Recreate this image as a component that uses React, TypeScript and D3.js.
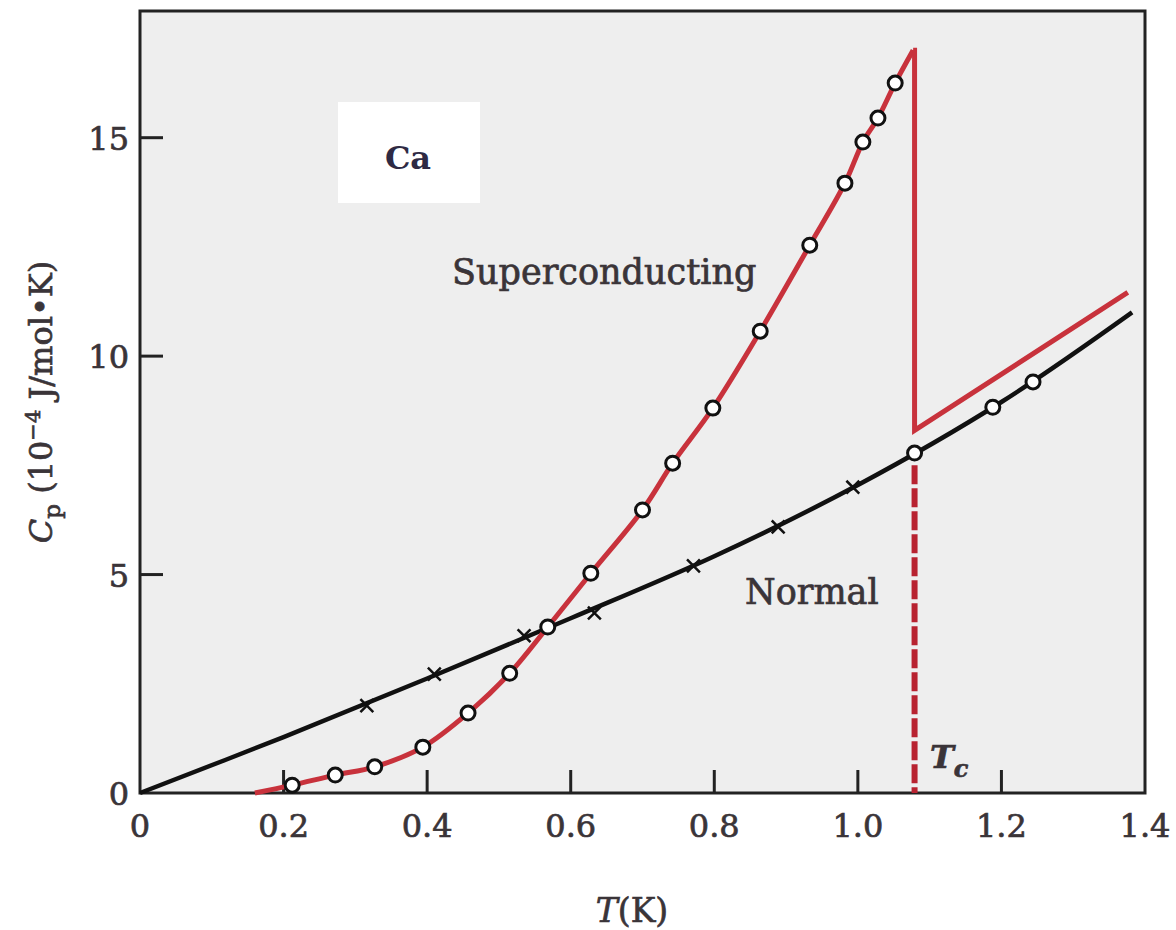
import * as d3 from "d3";
import React, {useRef, useEffect} from "react";

// superconducting points (circles), T in K, Cp in 1e-4 J/mol K
const scT = [0.212, 0.272, 0.327, 0.394, 0.457, 0.515, 0.568, 0.628, 0.700, 0.742, 0.798, 0.864, 0.933, 0.982, 1.007, 1.028, 1.052];
const scC = [0.18, 0.41, 0.60, 1.05, 1.83, 2.74, 3.80, 5.03, 6.48, 7.55, 8.81, 10.57, 12.54, 13.96, 14.90, 15.45, 16.25];

// smooth superconducting curve, below Tc
const scCurveT = [0.16, 0.212, 0.272, 0.327, 0.394, 0.457, 0.515, 0.568, 0.628, 0.700, 0.742, 0.798, 0.864, 0.933, 0.982, 1.007, 1.028, 1.052, 1.077];
const scCurveC = [0.0, 0.18, 0.41, 0.60, 1.05, 1.83, 2.74, 3.80, 5.03, 6.48, 7.55, 8.81, 10.57, 12.54, 13.96, 14.90, 15.45, 16.25, 17.0];

// jump at Tc and the line above it
const jumpT = [1.077, 1.079, 1.079, 1.376];
const jumpC = [17.0, 17.0, 8.3, 11.46];

// points above Tc (circles on the normal curve)
const aboveT = [1.079, 1.188, 1.244];
const aboveC = [7.78, 8.83, 9.41];

// normal state points (crosses)
const normT = [0.316, 0.410, 0.535, 0.633, 0.771, 0.889, 0.993];
const normC = [2.00, 2.72, 3.60, 4.12, 5.20, 6.09, 7.00];

// normal state curve
const normCurveT = [0, 0.2, 0.4, 0.6, 0.8, 1.0, 1.2, 1.382];
const normCurveC = [0, 1.28, 2.62, 4.0, 5.42, 7.05, 8.95, 11.0];

const Tc = 1.079;
const xTicks = [0, 0.2, 0.4, 0.6, 0.8, 1.0, 1.2, 1.4];
const yTicks = [0, 5, 10, 15];

const FONT = "'DejaVu Serif', serif";
const TEXT = "#3a3438";
const RED = "#c8323c";

function HeatCapacityChart() {

    const ref = useRef<SVGSVGElement>(null);

    useEffect(() => {
        const svg = d3.select(ref.current);
        svg.selectAll("*").remove();

        const x = d3.scaleLinear().domain([0, 1.4]).range([140, 1145]);
        const y = d3.scaleLinear().domain([0, 17.9]).range([793, 11]);

        const zip = (a: number[], b: number[]) => a.map((v, i) => [v, b[i]] as [number, number]);

        // slightly heavier type, like the scanned figure
        const ink = (sel: any, size: number) => sel
            .attr("font-family", FONT).attr("font-size", size)
            .attr("fill", TEXT).attr("stroke", TEXT).attr("stroke-width", 0.7);

        // plot background
        svg.append("rect")
            .attr("x", x(0)).attr("y", y(17.9))
            .attr("width", x(1.4) - x(0)).attr("height", y(0) - y(17.9))
            .attr("fill", "#eeeeee");

        // Ca box
        svg.append("rect")
            .attr("x", 338).attr("y", 102)
            .attr("width", 142).attr("height", 101)
            .attr("fill", "#ffffff");
        svg.append("text")
            .attr("x", 408).attr("y", 169)
            .attr("text-anchor", "middle")
            .call(ink, 32)
            .attr("font-weight", "bold")
            .attr("fill", "#2e2a44").attr("stroke", "none")
            .text("Ca");

        // frame
        svg.append("rect")
            .attr("x", x(0)).attr("y", y(17.9))
            .attr("width", x(1.4) - x(0)).attr("height", y(0) - y(17.9))
            .attr("fill", "none").attr("stroke", "#222").attr("stroke-width", 3);

        // inner ticks
        svg.append("g").selectAll("line")
            .data(xTicks.filter(t => t > 0 && t < 1.4))
            .enter().append("line")
            .attr("x1", d => x(d)).attr("x2", d => x(d))
            .attr("y1", y(0)).attr("y2", y(0) - 23)
            .attr("stroke", "#222").attr("stroke-width", 3);
        svg.append("g").selectAll("line")
            .data(yTicks.filter(t => t > 0))
            .enter().append("line")
            .attr("x1", x(0)).attr("x2", x(0) + 23)
            .attr("y1", d => y(d)).attr("y2", d => y(d))
            .attr("stroke", "#222").attr("stroke-width", 3);

        // tick labels
        svg.append("g").selectAll("text")
            .data(xTicks)
            .enter().append("text")
            .attr("x", d => x(d)).attr("y", 837)
            .attr("text-anchor", "middle")
            .call(ink, 32)
            .text(d => d === 0 ? "0" : d3.format(".1f")(d));
        svg.append("g").selectAll("text")
            .data(yTicks)
            .enter().append("text")
            .attr("x", 129).attr("y", d => y(d) + 12)
            .attr("text-anchor", "end")
            .call(ink, 32)
            .text(d => String(d));

        // normal curve
        const line = d3.line<[number, number]>()
            .x(d => x(d[0])).y(d => y(d[1]))
            .curve(d3.curveCatmullRom.alpha(0.5));

        svg.append("path")
            .attr("d", line(zip(normCurveT, normCurveC)))
            .attr("fill", "none").attr("stroke", "#111").attr("stroke-width", 4.5);

        // superconducting curve
        svg.append("path")
            .attr("d", line(zip(scCurveT, scCurveC)))
            .attr("fill", "none").attr("stroke", RED).attr("stroke-width", 5);

        const straight = d3.line<[number, number]>()
            .x(d => x(d[0])).y(d => y(d[1]));
        svg.append("path")
            .attr("d", straight(zip(jumpT, jumpC)))
            .attr("fill", "none").attr("stroke", RED).attr("stroke-width", 5)
            .attr("stroke-linejoin", "miter");

        // dashed Tc line
        svg.append("line")
            .attr("x1", x(Tc)).attr("x2", x(Tc))
            .attr("y1", y(7.5)).attr("y2", y(0))
            .attr("stroke", "#b82230").attr("stroke-width", 6)
            .attr("stroke-dasharray", "19,4");

        // cross markers
        const cross = d3.symbol().type(d3.symbolTimes).size(110);
        svg.append("g").selectAll("path")
            .data(zip(normT, normC))
            .enter().append("path")
            .attr("d", cross())
            .attr("transform", d => `translate(${x(d[0])},${y(d[1])})`)
            .attr("fill", "none").attr("stroke", "#111").attr("stroke-width", 2.5);

        // circle markers
        svg.append("g").selectAll("circle")
            .data(zip(scT, scC).concat(zip(aboveT, aboveC)))
            .enter().append("circle")
            .attr("cx", d => x(d[0])).attr("cy", d => y(d[1]))
            .attr("r", 7)
            .attr("fill", "#ffffff").attr("stroke", "#111").attr("stroke-width", 3);

        // curve labels
        svg.append("text")
            .attr("x", 452).attr("y", 284)
            .call(ink, 35)
            .text("Superconducting");
        svg.append("text")
            .attr("x", 745).attr("y", 604)
            .call(ink, 35)
            .text("Normal");

        const tc = svg.append("text")
            .attr("x", 930).attr("y", 768)
            .call(ink, 32)
            .attr("font-style", "italic").attr("font-weight", "bold");
        tc.append("tspan").text("T");
        tc.append("tspan").attr("dy", 9).attr("font-size", 24).text("c");

        // axis titles
        const xt = svg.append("text")
            .attr("x", 632).attr("y", 922)
            .attr("text-anchor", "middle")
            .call(ink, 33);
        xt.append("tspan").attr("font-style", "italic").text("T");
        xt.append("tspan").text("(K)");

        const yt = svg.append("text")
            .attr("transform", "translate(52,402) rotate(-90)")
            .attr("text-anchor", "middle")
            .call(ink, 32);
        yt.append("tspan").attr("font-style", "italic").text("C");
        yt.append("tspan").attr("dy", 8).attr("font-size", 23).text("p");
        yt.append("tspan").attr("dy", -8).text(" (10");
        yt.append("tspan").attr("dy", -12).attr("font-size", 21).text("\u22124");
        yt.append("tspan").attr("dy", 12).text(" J/mol\u2022K)");

    }, []);

    return (
        <svg ref={ref} width={1176} height={930}
             style={{position: "absolute", left: 0, top: 0, background: "#ffffff"}} />
    );
}

export default function App() {
    return <HeatCapacityChart />;
}
